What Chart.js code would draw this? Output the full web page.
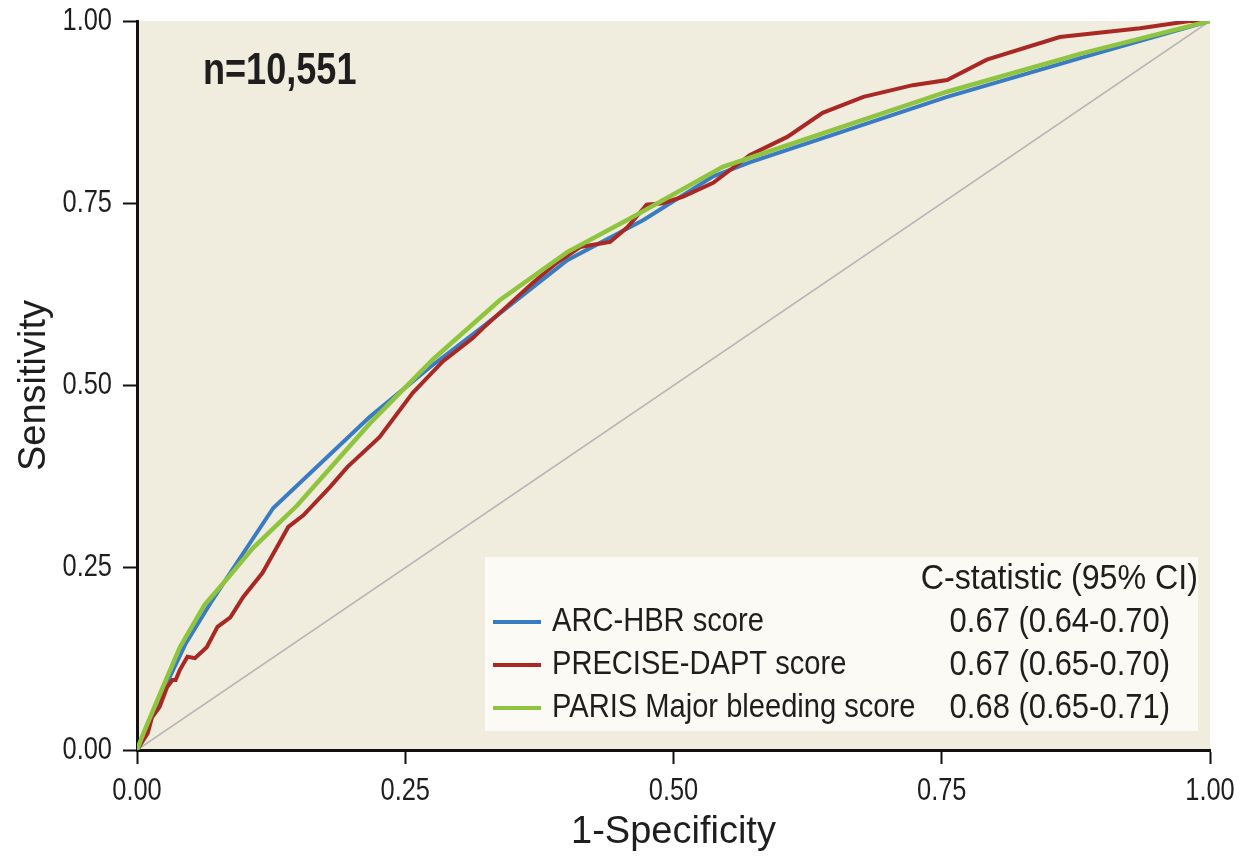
<!DOCTYPE html>
<html>
<head>
<meta charset="utf-8">
<title>ROC curves</title>
<script src="https://cdn.jsdelivr.net/npm/chart.js@4.4.1/dist/chart.umd.min.js"></script>
<style>
  html, body { margin: 0; padding: 0; background: #ffffff; }
  #wrap { width: 1242px; height: 865px; }
</style>
</head>
<body>
<div id="wrap"><canvas id="roc"></canvas></div>
<script>
// ROC points: 1-specificity (x) and sensitivity (y) for each score
const arcHbrFpr = [0, 0.024, 0.045, 0.070, 0.090, 0.127, 0.217, 0.273, 0.320, 0.401, 0.472, 0.537, 0.571, 0.755, 0.879, 1]
const arcHbrTpr = [0, 0.080, 0.145, 0.205, 0.250, 0.332, 0.457, 0.525, 0.578, 0.672, 0.727, 0.787, 0.806, 0.896, 0.949, 1]

const preciseFpr = [0, 0.010, 0.014, 0.021, 0.028, 0.033, 0.036, 0.040, 0.047, 0.054, 0.065, 0.075, 0.087, 0.099, 0.117, 0.130,
  0.141, 0.155, 0.180, 0.196, 0.226, 0.257, 0.285, 0.313, 0.322, 0.369, 0.391, 0.413, 0.441, 0.457, 0.475, 0.490,
  0.509, 0.537, 0.555, 0.571, 0.606, 0.639, 0.677, 0.723, 0.755, 0.792, 0.860, 0.935, 0.981, 1]
const preciseTpr = [0, 0.023, 0.045, 0.059, 0.086, 0.096, 0.096, 0.110, 0.128, 0.126, 0.141, 0.169, 0.182, 0.210, 0.243, 0.277,
  0.306, 0.322, 0.361, 0.388, 0.429, 0.490, 0.533, 0.565, 0.578, 0.641, 0.668, 0.690, 0.697, 0.717, 0.748, 0.750,
  0.759, 0.778, 0.798, 0.816, 0.841, 0.874, 0.896, 0.912, 0.919, 0.947, 0.978, 0.990, 1.0, 1]

const parisFpr = [0, 0.006, 0.024, 0.040, 0.063, 0.087, 0.108, 0.149, 0.217, 0.276, 0.338, 0.401, 0.462, 0.546, 0.755, 0.879, 1]
const parisTpr = [0, 0.023, 0.086, 0.141, 0.199, 0.240, 0.277, 0.335, 0.448, 0.536, 0.617, 0.683, 0.731, 0.800, 0.903, 0.955, 1]

const chanceFpr = [0, 1]
const chanceTpr = [0, 1]

const seriesNames = ['ARC-HBR score', 'PRECISE-DAPT score', 'PARIS Major bleeding score']
const cStatistics = ['0.67 (0.64-0.70)', '0.67 (0.65-0.70)', '0.68 (0.65-0.71)']
const tickValues = [0, 0.25, 0.5, 0.75, 1]
const tickLabels = ['0.00', '0.25', '0.50', '0.75', '1.00']

const colors = {
  arc: 'rgb(58, 124, 196)',
  precise: 'rgb(170, 40, 36)',
  paris: 'rgb(142, 196, 62)',
  chance: 'rgb(182, 182, 182)'
}
const sans = '"Liberation Sans", Arial, sans-serif'
const textColor = '#1e1e1e'

const toPoints = (xs, ys) => xs.map((x, i) => ({ x: x, y: ys[i] }))

// no narrow face installed, so condensed text is squeezed horizontally
function narrowText(ctx, text, x, y, align, font, squeeze = 0.82) {
  ctx.save()
  ctx.font = font
  ctx.fillStyle = textColor
  ctx.textAlign = align
  ctx.textBaseline = 'middle'
  ctx.translate(x, y)
  ctx.scale(squeeze, 1)
  ctx.fillText(text, 0, 0)
  ctx.restore()
}

// Beige plotting area behind the curves
const plotBackground = {
  id: 'plotBackground',
  beforeDraw(chart) {
    const { ctx, chartArea: a } = chart
    ctx.save()
    ctx.fillStyle = 'rgb(240, 236, 222)'
    ctx.fillRect(a.left, a.top, a.right - a.left, a.bottom - a.top)
    ctx.restore()
  }
}

// Tick labels in the condensed face, placed by the scales
const tickText = {
  id: 'tickText',
  afterDraw(chart) {
    const { ctx, scales } = chart
    const font = '31px ' + sans
    tickValues.forEach((v, i) => {
      narrowText(ctx, tickLabels[i], scales.x.getPixelForValue(v), scales.x.top + 41, 'center', font)
      narrowText(ctx, tickLabels[i], scales.y.right - 25, scales.y.getPixelForValue(v), 'right', font)
    })
  }
}

// Sample size note and the C-statistic legend box
const annotations = {
  id: 'annotations',
  afterDatasetsDraw(chart) {
    const { ctx, chartArea: a } = chart
    narrowText(ctx, 'n=10,551', a.left + 66, a.top + 51, 'left', 'bold 44px ' + sans)

    const boxRight = a.right - 12
    const boxBottom = a.bottom - 19
    const boxLeft = a.left + 348
    const boxTop = a.top + 536
    ctx.save()
    ctx.fillStyle = 'rgb(251, 250, 245)'
    ctx.fillRect(boxLeft, boxTop, boxRight - boxLeft, boxBottom - boxTop)
    ctx.restore()

    narrowText(ctx, 'C-statistic (95% CI)', boxRight, boxTop + 22, 'right', '35px ' + sans, 0.92)

    const swatches = [colors.arc, colors.precise, colors.paris]
    seriesNames.forEach((name, i) => {
      const y = boxTop + 65 + i * 43
      ctx.save()
      ctx.strokeStyle = swatches[i]
      ctx.lineWidth = 4
      ctx.beginPath()
      ctx.moveTo(boxLeft + 8, y)
      ctx.lineTo(boxLeft + 56, y)
      ctx.stroke()
      ctx.restore()
      narrowText(ctx, name, boxLeft + 67, y, 'left', '34px ' + sans, 0.856)
      narrowText(ctx, cStatistics[i], boxRight - 28, y, 'right', '35px ' + sans, 0.885)
    })
  }
}

const lineStyle = (color, width) => ({
  borderColor: color,
  backgroundColor: color,
  borderWidth: width,
  pointRadius: 0,
  tension: 0,
  fill: false
})

const axisCommon = {
  type: 'linear',
  min: 0,
  max: 1,
  border: { display: true, color: '#111', width: 3 },
  grid: { drawOnChartArea: false, drawTicks: true, tickLength: 14, tickWidth: 2, tickColor: '#111' },
  ticks: { display: false },
  afterBuildTicks(scale) {
    scale.ticks = tickValues.map(v => ({ value: v }))
  }
}

new Chart(document.getElementById('roc'), {
  type: 'line',
  data: {
    datasets: [
      Object.assign({ label: 'Chance', data: toPoints(chanceFpr, chanceTpr), order: 4 }, lineStyle(colors.chance, 1.6)),
      Object.assign({ label: seriesNames[0], data: toPoints(arcHbrFpr, arcHbrTpr), order: 3 }, lineStyle(colors.arc, 4)),
      Object.assign({ label: seriesNames[1], data: toPoints(preciseFpr, preciseTpr), order: 2 }, lineStyle(colors.precise, 4)),
      Object.assign({ label: seriesNames[2], data: toPoints(parisFpr, parisTpr), order: 1 }, lineStyle(colors.paris, 4.5))
    ]
  },
  options: {
    responsive: true,
    maintainAspectRatio: false,
    animation: false,
    layout: { padding: { top: 21, right: 32, left: 0, bottom: 0 } },
    plugins: {
      legend: { display: false },
      tooltip: { enabled: false }
    },
    scales: {
      x: Object.assign({}, axisCommon, {
        title: {
          display: true,
          text: '1-Specificity',
          color: textColor,
          font: { family: sans, size: 38 },
          padding: { top: 0, bottom: 10 }
        },
        afterFit(scale) { scale.height = 115 }
      }),
      y: Object.assign({}, axisCommon, {
        title: {
          display: true,
          text: 'Sensitivity',
          color: textColor,
          font: { family: sans, size: 38 },
          padding: { top: 12, bottom: 0 }
        },
        afterFit(scale) { scale.width = 137 }
      })
    }
  },
  plugins: [plotBackground, tickText, annotations]
})
</script>
</body>
</html>
